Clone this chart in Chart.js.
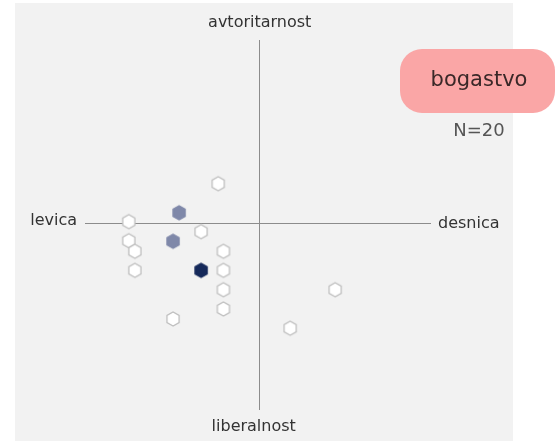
<!DOCTYPE html>
<html>
<head>
<meta charset="utf-8">
<script src="https://cdn.jsdelivr.net/npm/chart.js@4"></script>
<style>
html,body{margin:0;padding:0;background:#fff;}
#wrap{width:556px;height:441px;position:relative;}
</style>
</head>
<body>
<div id="wrap"><canvas id="c" width="556" height="441"></canvas></div>
<script>
// Data (economic left/right = x, authoritarian/liberal = y)
const xValues = [-2.40, -4.66, -7.57, -3.39, -7.57, -5.01, -7.22, -2.10, -7.22, -3.39, -2.10, -2.10, 4.36, -2.10, -5.01, 1.76];
const yValues = [2.13, 0.56, 0.08, -0.46, -0.95, -0.98, -1.52, -1.52, -2.55, -2.55, -2.55, -3.60, -3.60, -4.64, -5.18, -5.68];
// 0 = few respondents, 1 = several, 2 = many
const levels  = [0, 1, 0, 0, 0, 1, 0, 0, 0, 2, 0, 0, 0, 0, 0, 0];
const axisLabels = { top: 'avtoritarnost', bottom: 'liberalnost', left: 'levica', right: 'desnica' };
const title = 'bogastvo';
const sampleLabel = 'N=20';

const levelFill   = ['#ffffff', '#7f88a9', '#15295a'];
const levelStroke = ['#bfbfbf', '#7f88a9', '#15295a'];

function makeHex(fill, stroke) {
  const s = 18, c = document.createElement('canvas');
  c.width = s; c.height = s;
  const g = c.getContext('2d');
  const r = 7, cx = s / 2, cy = s / 2;
  g.beginPath();
  for (let i = 0; i < 6; i++) {
    const a = Math.PI / 2 + i * Math.PI / 3;
    const px = cx + r * Math.cos(a), py = cy + r * Math.sin(a);
    if (i === 0) g.moveTo(px, py); else g.lineTo(px, py);
  }
  g.closePath();
  g.fillStyle = fill; g.fill();
  g.lineWidth = 1.3; g.strokeStyle = stroke; g.stroke();
  return c;
}
const hexes = levelFill.map((f, i) => makeHex(f, levelStroke[i]));

const points = xValues.map((x, i) => ({ x, y: yValues[i] }));

const FONT = '"DejaVu Sans", Verdana, sans-serif';

const decor = {
  id: 'decor',
  beforeDraw(chart) {
    const ctx = chart.ctx;
    ctx.save();
    ctx.fillStyle = '#ffffff';
    ctx.fillRect(0, 0, chart.width, chart.height);
    ctx.fillStyle = '#f2f2f2';
    ctx.fillRect(15, 3, 498, 438);
    ctx.restore();
  },
  afterDraw(chart) {
    const ctx = chart.ctx, a = chart.chartArea;
    const xs = chart.scales.x, ys = chart.scales.y;
    const x0 = xs.getPixelForValue(0), y0 = ys.getPixelForValue(0);
    ctx.save();
    ctx.fillStyle = '#333333';
    ctx.font = '16px ' + FONT;
    ctx.textBaseline = 'middle';
    ctx.textAlign = 'center';
    ctx.fillText(axisLabels.top, x0, a.top - 17);
    ctx.fillText(axisLabels.bottom, x0 - 6, a.bottom + 17);
    ctx.textAlign = 'right';
    ctx.fillText(axisLabels.left, a.left - 8, y0 - 2);
    ctx.textAlign = 'left';
    ctx.fillText(axisLabels.right, a.right + 7, y0 + 1);
    // title badge
    ctx.fillStyle = '#faa6a6';
    ctx.beginPath();
    ctx.roundRect(400, 49, 155, 64, 22);
    ctx.fill();
    ctx.fillStyle = '#3a2828';
    ctx.font = '21px ' + FONT;
    ctx.textAlign = 'center';
    ctx.fillText(title, 479, 81);
    ctx.fillStyle = '#555555';
    ctx.font = '18px ' + FONT;
    ctx.fillText(sampleLabel, 479, 131);
    ctx.restore();
  }
};

const zeroOnly = (scale) => { scale.ticks = [{ value: 0 }]; };

new Chart(document.getElementById('c'), {
  type: 'scatter',
  data: {
    datasets: [{
      data: points,
      pointStyle: levels.map(l => hexes[l]),
      pointRadius: 8,
      pointHoverRadius: 8
    }]
  },
  options: {
    responsive: false,
    animation: false,
    events: [],
    layout: { padding: { left: 85, right: 125, top: 40, bottom: 31 } },
    plugins: { legend: { display: false }, tooltip: { enabled: false } },
    scales: {
      x: {
        type: 'linear', min: -10.1, max: 9.9,
        afterBuildTicks: zeroOnly,
        ticks: { display: false },
        border: { display: false },
        grid: { drawTicks: false, tickLength: 0, color: '#8c8c8c', lineWidth: 1 }
      },
      y: {
        type: 'linear', min: -10.1, max: 9.9,
        afterBuildTicks: zeroOnly,
        ticks: { display: false },
        border: { display: false },
        grid: { drawTicks: false, tickLength: 0, color: '#8c8c8c', lineWidth: 1 }
      }
    }
  },
  plugins: [decor]
});
</script>
</body>
</html>
